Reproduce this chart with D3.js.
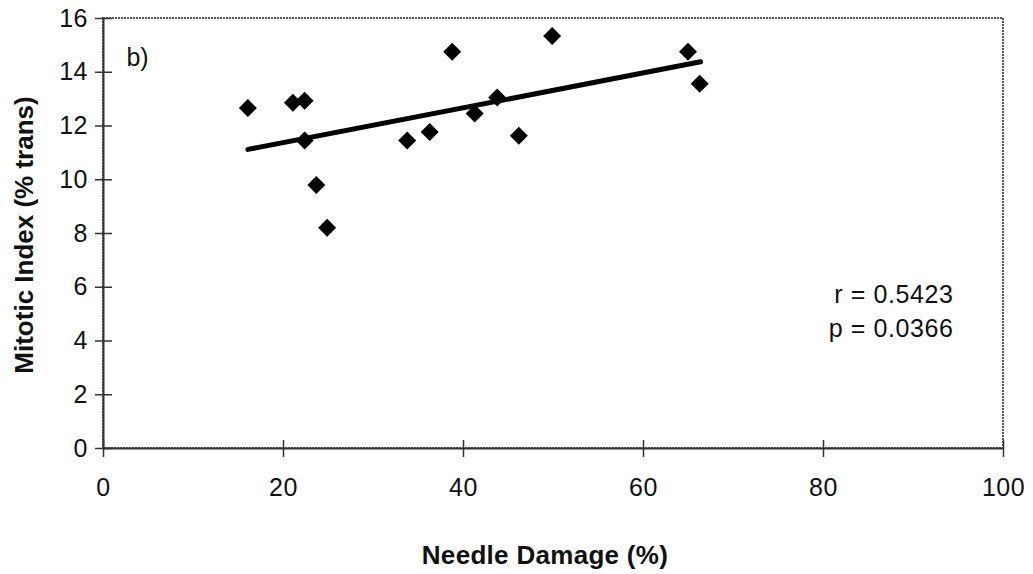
<!DOCTYPE html>
<html>
<head>
<meta charset="utf-8">
<script src="https://cdn.jsdelivr.net/npm/d3@7"></script>
<style>
  body { margin: 0; background: #fff; }
  text { font-family: "Liberation Sans", Arial, sans-serif; fill: #111; }
</style>
</head>
<body>
<div id="chart"></div>
<script>
// needle damage (%) vs mitotic index (% trans)
var damage  = [16.1, 21.1, 22.4, 22.4, 23.7, 24.9, 33.8, 36.3, 38.8, 41.3, 43.8, 46.2, 49.9, 65.0, 66.3];
var mitotic = [12.65, 12.85, 12.92, 11.44, 9.79, 8.2, 11.44, 11.76, 14.74, 12.45, 13.04, 11.62, 15.33, 14.74, 13.55];
// trend line ends
var trendX = [16.1, 66.4];
var trendY = [11.11, 14.37];
var xTicks = [0, 20, 40, 60, 80, 100];
var yTicks = [0, 2, 4, 6, 8, 10, 12, 14, 16];
var stats = ["r = 0.5423", "p = 0.0366"];

var width = 1033, height = 574;
var margin = {left: 103, top: 18, right: 30, bottom: 126};

var svg = d3.select("#chart").append("svg")
    .attr("width", width)
    .attr("height", height);

var x = d3.scaleLinear().domain([0, 100]).range([margin.left, width - margin.right]);
var y = d3.scaleLinear().domain([0, 16]).range([height - margin.bottom, margin.top]);

// frame
svg.append("rect")
    .attr("x", x(0)).attr("y", y(16))
    .attr("width", x(100) - x(0)).attr("height", y(0) - y(16))
    .attr("fill", "none")
    .attr("stroke", "#555")
    .attr("stroke-width", 2)
    .attr("stroke-dasharray", "2,1");

// axes
var xAxis = svg.append("g")
    .attr("transform", "translate(0," + y(0) + ")")
    .call(d3.axisBottom(x).tickValues(xTicks).tickSize(0).tickPadding(30));
xAxis.select(".domain").attr("stroke", "#333").attr("stroke-width", 2);
xAxis.selectAll(".tick").append("line")
    .attr("y1", -8).attr("y2", 9)
    .attr("stroke", "#333").attr("stroke-width", 1.5);
xAxis.selectAll("text")
    .style("font-size", "25px")
    .style("letter-spacing", "0.5px")
    .attr("fill", "#111");

var yAxis = svg.append("g")
    .attr("transform", "translate(" + x(0) + ",0)")
    .call(d3.axisLeft(y).tickValues(yTicks).tickSize(0).tickPadding(15));
yAxis.select(".domain").attr("stroke", "#333").attr("stroke-width", 2);
yAxis.selectAll(".tick").append("line")
    .attr("x1", -8).attr("x2", 9)
    .attr("stroke", "#333").attr("stroke-width", 1.5);
yAxis.selectAll("text")
    .style("font-size", "25px")
    .style("letter-spacing", "0.5px")
    .attr("fill", "#111");

// titles
svg.append("text")
    .attr("x", 545).attr("y", 564)
    .attr("text-anchor", "middle")
    .style("font-size", "26px").style("font-weight", "bold")
    .style("letter-spacing", "0.3px")
    .text("Needle Damage (%)");

svg.append("text")
    .attr("transform", "translate(33,235) rotate(-90)")
    .attr("text-anchor", "middle")
    .style("font-size", "26px").style("font-weight", "bold")
    .text("Mitotic Index (% trans)");

svg.append("text")
    .attr("x", x(2.6)).attr("y", y(14.2))
    .style("font-size", "25px")
    .text("b)");

svg.selectAll(".stat")
    .data(stats)
    .enter().append("text")
    .attr("class", "stat")
    .attr("x", x(94.5))
    .attr("y", function (d, i) { return y(5.4) + i * 34; })
    .attr("text-anchor", "end")
    .style("font-size", "25px")
    .style("letter-spacing", "0.6px")
    .text(function (d) { return d; });

// trend line
svg.append("line")
    .attr("x1", x(trendX[0])).attr("y1", y(trendY[0]))
    .attr("x2", x(trendX[1])).attr("y2", y(trendY[1]))
    .attr("stroke", "#000")
    .attr("stroke-width", 5)
    .attr("stroke-linecap", "round");

// points
var pts = damage.map(function (d, i) { return {x: d, y: mitotic[i]}; });
svg.selectAll(".pt")
    .data(pts)
    .enter().append("path")
    .attr("class", "pt")
    .attr("d", "M0,-9L9,0L0,9L-9,0Z")
    .attr("transform", function (d) { return "translate(" + x(d.x) + "," + y(d.y) + ")"; })
    .attr("fill", "#000");
</script>
</body>
</html>
